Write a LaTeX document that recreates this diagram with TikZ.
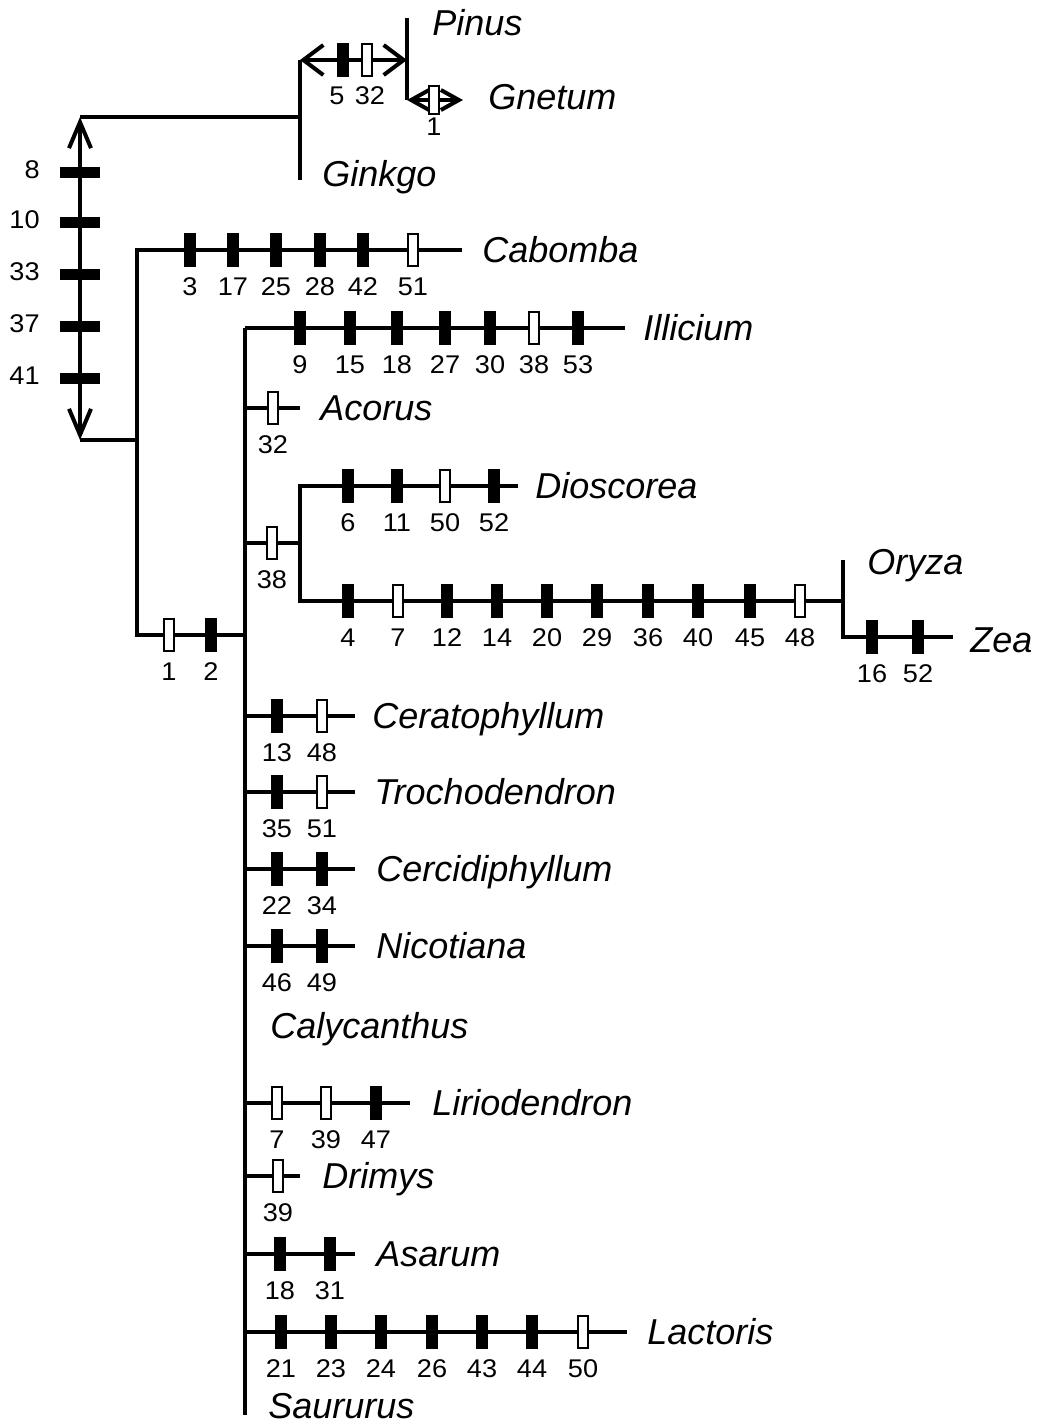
\documentclass[tikz,border=0pt]{standalone}
\usepackage{fontspec}
\usepackage{graphicx}
\usetikzlibrary{arrows.meta}
\newfontfamily\hv{Liberation Sans}
\newcommand\taxfont{\hv\itshape\fontsize{18}{20}\selectfont}
\newcommand\numfont{\hv\fontsize{12.8}{14}\selectfont}
\newcommand\sx[1]{\scalebox{1.06}[1]{#1}}
% ticks on a horizontal branch at height #1: list of x/label/kind (f = filled, o = open)
\newcommand\chmarks[2]{\foreach \x/\l/\k in {#2}{%
  \node[tick\k] at (\x,#1) {};
  \node[num] at (\x,{#1+45}) {\sx{\l}};}}
\begin{document}
\begin{tikzpicture}[x=0.5pt,y=-0.5pt,
  br/.style={line width=2pt,line join=miter},
  tickf/.style={fill=black,draw=none,inner sep=0pt,minimum width=6pt,minimum height=17pt},
  ticko/.style={fill=white,draw=black,line width=1pt,inner sep=0pt,minimum width=5pt,minimum height=16pt},
  axtick/.style={fill=black,draw=none,inner sep=0pt,minimum width=20pt,minimum height=5.5pt},
  num/.style={font=\numfont,anchor=base,inner sep=0pt},
  axnum/.style={font=\numfont,anchor=base east,inner sep=0pt},
  taxon/.style={font=\taxfont,anchor=base west,inner sep=0pt},
  bigarr/.style={{Straight Barb[length=13pt,width=11pt]}-{Straight Barb[length=13pt,width=11pt]}},
  gymarr/.style={{Straight Barb[length=10pt,width=15pt]}-{Straight Barb[length=10pt,width=15pt]}},
  smallarr/.style={{Straight Barb[length=9pt,width=10pt]}-{Straight Barb[length=9pt,width=10pt]}}]
\useasboundingbox (0,0) rectangle (1037,1425);

% ---------- junction coordinates ----------
\coordinate (axT) at (80,117);
\coordinate (axB) at (80,440);
\coordinate (gymJ) at (300,117);
\coordinate (gymT) at (300,60);
\coordinate (gymB) at (300,180);
\coordinate (pinJ) at (407,60);
\coordinate (pinT) at (407,18);
\coordinate (gneJ) at (407,100);
\coordinate (gneE) at (463,100);
\coordinate (cabJ) at (137,440);
\coordinate (cabT) at (137,250);
\coordinate (cabE) at (462,250);
\coordinate (cabB) at (137,635);
\coordinate (angJ) at (245,635);
\coordinate (mainT) at (245,328);
\coordinate (mainB) at (245,1415);
\coordinate (illE) at (625,328);
\coordinate (acoS) at (245,408);
\coordinate (acoE) at (300,408);
\coordinate (monS) at (245,543);
\coordinate (monJ) at (300,543);
\coordinate (monT) at (300,486);
\coordinate (monB) at (300,601);
\coordinate (dioE) at (518,486);
\coordinate (poaJ) at (843,601);
\coordinate (poaT) at (843,560);
\coordinate (poaB) at (843,637);
\coordinate (zeaE) at (953,637);
\coordinate (cerS) at (245,716);  \coordinate (cerE) at (355,716);
\coordinate (troS) at (245,792);  \coordinate (troE) at (355,792);
\coordinate (cciS) at (245,869);  \coordinate (cciE) at (355,869);
\coordinate (nicS) at (245,946);  \coordinate (nicE) at (355,946);
\coordinate (lirS) at (245,1103); \coordinate (lirE) at (410,1103);
\coordinate (driS) at (245,1176); \coordinate (driE) at (300,1176);
\coordinate (asaS) at (245,1254); \coordinate (asaE) at (355,1254);
\coordinate (lacS) at (245,1332); \coordinate (lacE) at (627,1332);

% ---------- branches ----------
\draw[br,bigarr] (axB) -- (axT);
\draw[br] (axT) -- (gymJ);
\draw[br] (gymT) -- (gymB);
\draw[br,gymarr] (gymT) -- (pinJ);
\draw[br] (pinT) -- (gneJ);
\draw[br,smallarr] (gneJ) -- (gneE);
\draw[br] (axB) -- (cabJ);
\draw[br] (cabE) -- (cabT) -- (cabB) -- (angJ);
\draw[br] (mainT) -- (mainB);
\draw[br] (mainT) -- (illE);
\draw[br] (acoS) -- (acoE);
\draw[br] (monS) -- (monJ);
\draw[br] (dioE) -- (monT) -- (monB) -- (poaJ);
\draw[br] (poaT) -- (poaB) -- (zeaE);
\draw[br] (cerS) -- (cerE);
\draw[br] (troS) -- (troE);
\draw[br] (cciS) -- (cciE);
\draw[br] (nicS) -- (nicE);
\draw[br] (lirS) -- (lirE);
\draw[br] (driS) -- (driE);
\draw[br] (asaS) -- (asaE);
\draw[br] (lacS) -- (lacE);

% ---------- character marks ----------
\foreach \y/\l in {172/8,222/10,274/33,326/37,378/41}{%
  \node[axtick] at (80,\y) {};
  \node[axnum] at (40,{\y+6}) {\sx{\l}};}
\node[tickf] at (343,60) {};
\node[ticko] at (367,60) {};
\node[num] at (337,104) {\sx{5}};
\node[num] at (370,104) {\sx{32}};
\node[ticko,minimum height=14pt] at (434,100) {};
\node[num] at (434,135) {\sx{1}};
\chmarks{250}{190/3/f,233/17/f,276/25/f,320/28/f,363/42/f,413/51/o}
\chmarks{635}{169/1/o,211/2/f}
\chmarks{328}{300/9/f,350/15/f,397/18/f,445/27/f,490/30/f,534/38/o,578/53/f}
\chmarks{408}{273/32/o}
\chmarks{543}{272/38/o}
\chmarks{486}{348/6/f,397/11/f,445/50/o,494/52/f}
\chmarks{601}{348/4/f,398/7/o,447/12/f,497/14/f,547/20/f,597/29/f,648/36/f,698/40/f,750/45/f,800/48/o}
\chmarks{637}{872/16/f,918/52/f}
\chmarks{716}{277/13/f,322/48/o}
\chmarks{792}{277/35/f,322/51/o}
\chmarks{869}{277/22/f,322/34/f}
\chmarks{946}{277/46/f,322/49/f}
\chmarks{1103}{277/7/o,326/39/o,376/47/f}
\chmarks{1176}{278/39/o}
\chmarks{1254}{280/18/f,330/31/f}
\chmarks{1332}{281/21/f,331/23/f,381/24/f,432/26/f,482/43/f,532/44/f,583/50/o}

% ---------- taxa ----------
\node[taxon] (pinus) at (432,35) {Pinus};
\node[taxon] (gnetum) at (488,109) {Gnetum};
\node[taxon] (ginkgo) at (322,186) {Ginkgo};
\node[taxon] (cabomba) at (482,262) {Cabomba};
\node[taxon] (illicium) at (643,340) {Illicium};
\node[taxon] (acorus) at (320,420) {Acorus};
\node[taxon] (dioscorea) at (535,498) {Dioscorea};
\node[taxon] (oryza) at (867,574) {Oryza};
\node[taxon] (zea) at (970,652) {Zea};
\node[taxon] (cerato) at (372,728) {Ceratophyllum};
\node[taxon] (trocho) at (374,804) {Trochodendron};
\node[taxon] (cercid) at (376,881) {Cercidiphyllum};
\node[taxon] (nicot) at (376,958) {Nicotiana};
\node[taxon] (calyc) at (270,1038) {Calycanthus};
\node[taxon] (lirio) at (432,1115) {Liriodendron};
\node[taxon] (drimys) at (322,1188) {Drimys};
\node[taxon] (asarum) at (376,1266) {Asarum};
\node[taxon] (lactoris) at (647,1344) {Lactoris};
\node[taxon] (saururus) at (268,1418) {Saururus};
\end{tikzpicture}
\end{document}
